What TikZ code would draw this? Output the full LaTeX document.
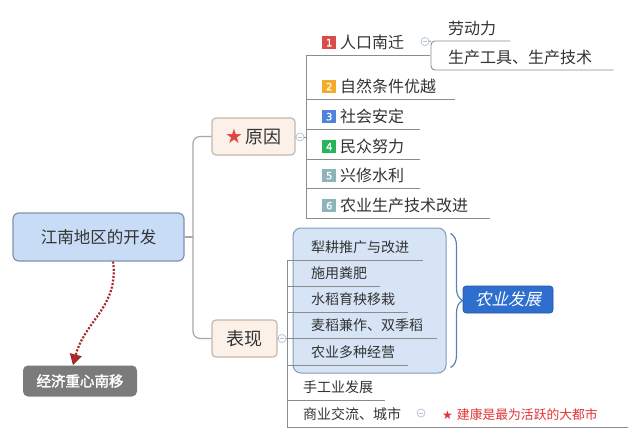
\documentclass[tikz,border=0pt]{standalone}
\usepackage{fontspec}
\setmainfont{Noto Sans CJK SC}
\newfontfamily\cjkit[FakeSlant=0.22]{Noto Sans CJK SC}
\newfontfamily\cjkbf[FakeBold=2]{Noto Sans CJK SC}
\newfontfamily\sym{DejaVu Sans}
\newfontfamily\numf{DejaVu Sans}[FakeBold=1]
\usetikzlibrary{arrows.meta,decorations.pathreplacing}
\definecolor{txt}{HTML}{333333}
\definecolor{rootfill}{HTML}{C8DCF6}
\definecolor{rootbd}{HTML}{8093AE}
\definecolor{catfill}{HTML}{FBF1E9}
\definecolor{catbd}{HTML}{C5B8AC}
\definecolor{lncol}{HTML}{8C8C8C}
\definecolor{trunkcol}{HTML}{A8A8A8}
\definecolor{agfill}{HTML}{D6E4F5}
\definecolor{agbd}{HTML}{7E9CC0}
\definecolor{tagfill}{HTML}{2E6ECF}
\definecolor{bracecol}{HTML}{5A82B4}
\definecolor{zxfill}{HTML}{7B7B7B}
\definecolor{arrowred}{HTML}{A52A2A}
\definecolor{starred}{HTML}{E04444}
\definecolor{redtxt}{HTML}{E03535}
\definecolor{mkcol}{HTML}{B4C0D4}
\definecolor{bRed}{HTML}{DC4B4B}
\definecolor{bOrange}{HTML}{F5AA28}
\definecolor{bBlue}{HTML}{4F82DC}
\definecolor{bGreen}{HTML}{28B45A}
\definecolor{bTeal}{HTML}{8CB4B9}
\newcommand\badge[2]{{\setlength{\fboxsep}{0pt}\colorbox{#1}{\makebox[14pt][c]{\rule{0pt}{13pt}\color{white}\numf\fontsize{10}{10}\selectfont\raisebox{2.5pt}{#2}}}}\hspace{4pt}}
\begin{document}
\begin{tikzpicture}[x=1pt,y=-1pt,
  rootbox/.style={rounded corners=6pt, draw=rootbd, fill=rootfill, line width=1.2pt,
    minimum width=171pt, minimum height=48pt, text=txt, font=\fontsize{16.5}{16.5}\selectfont},
  catbox/.style={rounded corners=4pt, draw=catbd, fill=catfill, line width=1.2pt,
    minimum height=37pt, text=txt, font=\fontsize{18}{18}\selectfont},
  marker/.style={circle, draw=mkcol, fill=white, inner sep=0pt, minimum size=8pt, line width=0.7pt,
    path picture={\draw[mkcol, line width=0.7pt] ([xshift=-2.2pt]path picture bounding box.center) -- ([xshift=2.2pt]path picture bounding box.center);}},
  item/.style={anchor=south west, inner xsep=0pt, inner ysep=4.5pt, text depth=0.15em,
    text width=#1pt, align=left, text=txt, font=\fontsize{16}{16}\selectfont},
  sitem/.style={item=#1, font=\fontsize{14}{14}\selectfont, inner ysep=5.5pt},
  ln/.style={draw=lncol, line width=0.9pt},
  trunk/.style={draw=trunkcol, line width=1.2pt},
  agbg/.style={rounded corners=8pt, draw=agbd, fill=agfill, line width=1pt,
    minimum width=153pt, minimum height=145pt, inner sep=0pt},
  agtag/.style={rounded corners=3pt, fill=tagfill, draw=tagfill!80!black, line width=0.6pt,
    minimum width=90pt, minimum height=27pt, text=white, font=\cjkit\fontsize{16.5}{16.5}\selectfont},
  zxbox/.style={rounded corners=5pt, fill=zxfill, minimum width=114pt, minimum height=31pt,
    text=white, font=\cjkbf\fontsize{14.5}{14.5}\selectfont},
  bracestyle/.style={draw=bracecol, line width=1.2pt, decorate, decoration={brace, amplitude=12pt}},
  dotarr/.style={draw=arrowred, line width=2.2pt, dash pattern=on 2pt off 1.6pt,
    -{Triangle[length=11pt,width=12pt,fill=arrowred]}}
]
\useasboundingbox (0,0) rectangle (640,439);
\fill[white] (0,0) rectangle (640,439);

% main nodes
\node[rootbox] (root) at (98.5,237) {江南地区的开发};
\node[catbox, minimum width=83pt] (yy) at (253.5,136.5) {{\sym\fontsize{20}{20}\selectfont\color{starred}★}\hspace{3pt}原因};
\node[catbox, minimum width=65pt] (bx) at (244.5,338.5) {表现};
\node[zxbox] (zx) at (80,381) {经济重心南移};
\coordinate (tk) at (193,237);

% trunk
\draw[trunk, rounded corners=7pt] (yy.west) -| (tk) |- (bx.west);
\draw[trunk] (root.east) -- (tk);

% markers
\node[marker] (m1) at (300,137) {};
\node[marker] (m2) at (282,338.5) {};
\node[marker] (m3) at (425,41.5) {};
\node[marker] (m4) at (421,413) {};
\draw[trunk] (yy.east) -- (m1.west);
\draw[trunk] (bx.east) -- (m2.west);

% reasons
\node[item=124] (r1) at (306,55) {\hspace*{16pt}\badge{bRed}{1}人口南迁};
\node[item=149] (r2) at (306,99) {\hspace*{16pt}\badge{bOrange}{2}自然条件优越};
\node[item=114] (r3) at (306,129) {\hspace*{16pt}\badge{bBlue}{3}社会安定};
\node[item=114] (r4) at (306,159) {\hspace*{16pt}\badge{bGreen}{4}民众努力};
\node[item=114] (r5) at (306,188) {\hspace*{16pt}\badge{bTeal}{5}兴修水利};
\node[item=184] (r6) at (306,218) {\hspace*{16pt}\badge{bTeal}{6}农业生产技术改进};
\draw[ln] (m1.east) -- (m1.east -| r1.south west);
\draw[ln] (r1.south west) -- (r6.south west);
\foreach \n in {r1,r2,r3,r4,r5,r6} \draw[ln] (\n.south west) -- (\n.south east);

% sub of 人口南迁
\node[item=79] (s1) at (431,41) {\hspace*{17pt}劳动力};
\node[item=182] (s2) at (431,70) {\hspace*{17pt}生产工具、生产技术};
\draw[ln] (m3.east) -- (s1.south west);
\draw[ln, rounded corners=4pt] (s1.south east) -- (s1.south west) -- (s2.south west) -- (s2.south east);

% 表现
\node[agbg] (agbox) at (369.5,300.5) {};
\node[sitem=136] (p1) at (287,260) {\hspace*{24pt}犁耕推广与改进};
\node[sitem=93]  (p2) at (287,286) {\hspace*{24pt}施用粪肥};
\node[sitem=121] (p3) at (287,312) {\hspace*{24pt}水稻育秧移栽};
\node[sitem=150] (p4) at (287,338) {\hspace*{24pt}麦稻兼作、双季稻};
\node[sitem=121] (p5) at (287,365) {\hspace*{24pt}农业多种经营};
\node[sitem=98]  (p6) at (287,400) {\hspace*{16pt}手工业发展};
\node[sitem=341] (p7) at (287,427) {\hspace*{16pt}商业交流、城市};
\draw[ln] (m2.east) -- (m2.east -| p1.south west);
\draw[ln] (p1.south west) -- (p7.south west);
\foreach \n in {p1,p2,p3,p4,p5,p6,p7} \draw[ln] (\n.south west) -- (\n.south east);

% brace and tag
\draw[bracestyle] ([xshift=4pt,yshift=-6pt]agbox.north east) -- ([xshift=4pt,yshift=6pt]agbox.south east);
\node[agtag] (ag) at (508,299.5) {农业发展};

% red note
\node[anchor=base west, inner sep=0pt, text=redtxt, font=\fontsize{12.8}{12.8}\selectfont] (note) at (442,419)
  {{\sym\fontsize{12}{12}\selectfont ★}\hspace{4pt}建康是最为活跃的大都市};

% dotted arrow
\draw[dotarr] ([xshift=14.5pt]root.south) .. controls +(6,45) and +(12,-45) .. ([xshift=-7pt]zx.north);
\end{tikzpicture}
\end{document}
